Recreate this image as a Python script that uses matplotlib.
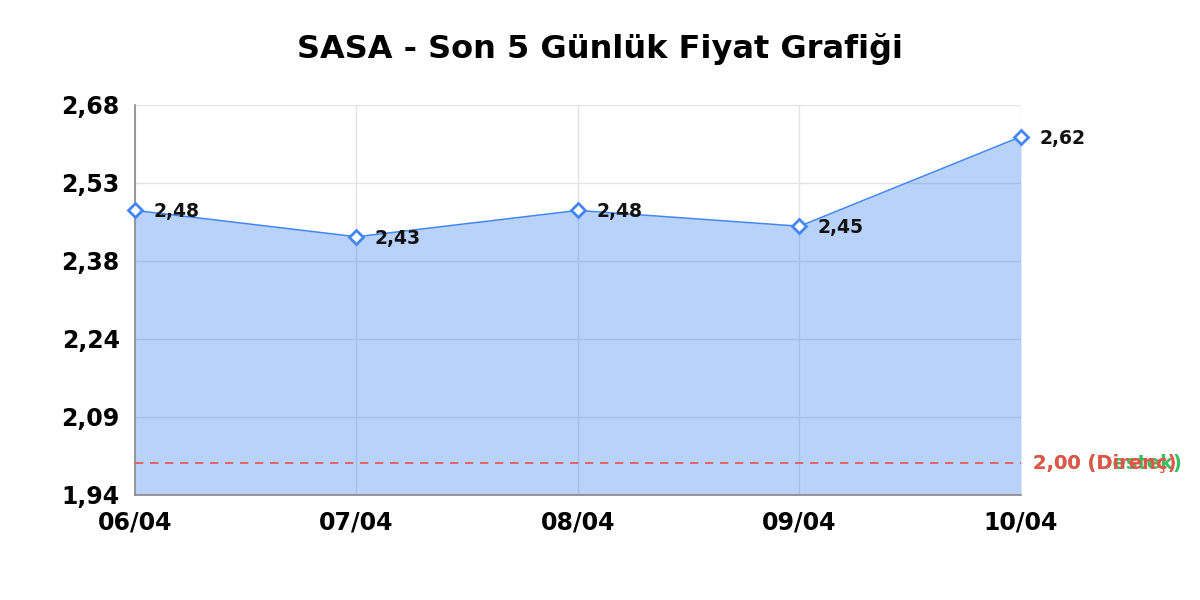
import matplotlib
matplotlib.use("Agg")
import matplotlib.pyplot as plt
import numpy as np

dates = ["06/04", "07/04", "08/04", "09/04", "10/04"]
prices = [2.48, 2.43, 2.48, 2.45, 2.62]
support = 2.00
resistance = 2.00
y_min, y_max = 1.94, 2.68
title = "SASA - Son 5 Günlük Fiyat Grafiği"

def fmt(v):
    return f"{v:.2f}".replace(".", ",")

plt.rcParams['font.family'] = ['DejaVu Sans']
fig = plt.figure(figsize=(12, 6), dpi=100)
ax = fig.add_axes([0.1125, 0.175, 0.7383, 0.65])

x = np.arange(len(dates))
line_color = "#4285f4"
ax.fill_between(x, prices, y_min, color=line_color, alpha=0.37, linewidth=0, zorder=2)
ax.plot(x, prices, color=line_color, linewidth=1.1, zorder=3)
ax.plot(x, prices, linestyle="none", marker="D", markersize=7,
        markerfacecolor="white", markeredgecolor=line_color, markeredgewidth=2,
        zorder=4, clip_on=False)

for xi, p in zip(x, prices):
    ax.annotate(fmt(p), (xi, p), xytext=(13, -1), textcoords="offset points",
                ha="left", va="center", fontsize=13.5, fontweight="bold", color="#111111",
                zorder=5, annotation_clip=False)

ax.axhline(support, color="#e8524a", linestyle=(0, (5, 4)), linewidth=1.2, zorder=3)
ax.annotate(f"{fmt(support)} (Destek)", (x[-1], support), xytext=(9, 0), textcoords="offset points",
            ha="left", va="center", fontsize=14, fontweight="bold", color="#35c15c",
            annotation_clip=False)
ax.annotate(f"{fmt(resistance)} (Direnç)", (x[-1], resistance), xytext=(9, 0), textcoords="offset points",
            ha="left", va="center", fontsize=14, fontweight="bold", color="#e8524a",
            annotation_clip=False)

ax.set_xlim(x[0], x[-1])
ax.set_ylim(y_min, y_max)
yt = np.linspace(y_min, y_max, 6)
ax.set_yticks(yt)
ax.set_yticklabels([fmt(v) for v in yt])
ax.set_xticks(x)
ax.set_xticklabels(dates)
ax.tick_params(axis="both", length=0, labelsize=17, pad=11)
for lab in ax.get_xticklabels() + ax.get_yticklabels():
    lab.set_fontweight("bold")

ax.grid(True, color="#e2e2e2", linewidth=1, zorder=1)
ax.set_axisbelow(True)
for s in ["top", "right"]:
    ax.spines[s].set_visible(False)
for s in ["left", "bottom"]:
    ax.spines[s].set_color("#888888")
    ax.spines[s].set_linewidth(1.2)

fig.suptitle(title, fontsize=23, fontweight="bold", y=0.945)

fig.savefig("out.png", dpi=100)
